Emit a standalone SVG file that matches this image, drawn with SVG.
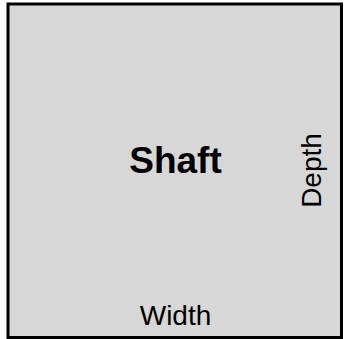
<svg xmlns="http://www.w3.org/2000/svg" width="344" height="339" viewBox="0 0 344 339">
<style>
.box{fill:#d7d7d7;stroke:#000;stroke-width:3}
.lbl{font-family:"Liberation Sans",Arial,sans-serif;fill:#000;text-anchor:middle}
.title{font-weight:bold;font-size:37px}
.dim{font-size:28px}
</style>
<g id="shaft">
<rect class="box" x="8" y="4" width="333.5" height="333.5"/>
<text class="lbl title" x="175.5" y="173">Shaft</text>
</g>
<g id="width-label">
<text class="lbl dim" x="175.5" y="325">Width</text>
</g>
<g id="depth-label">
<text class="lbl dim" transform="translate(321,170.5) rotate(-90)">Depth</text>
</g>
<g id="connectors"/>
</svg>
